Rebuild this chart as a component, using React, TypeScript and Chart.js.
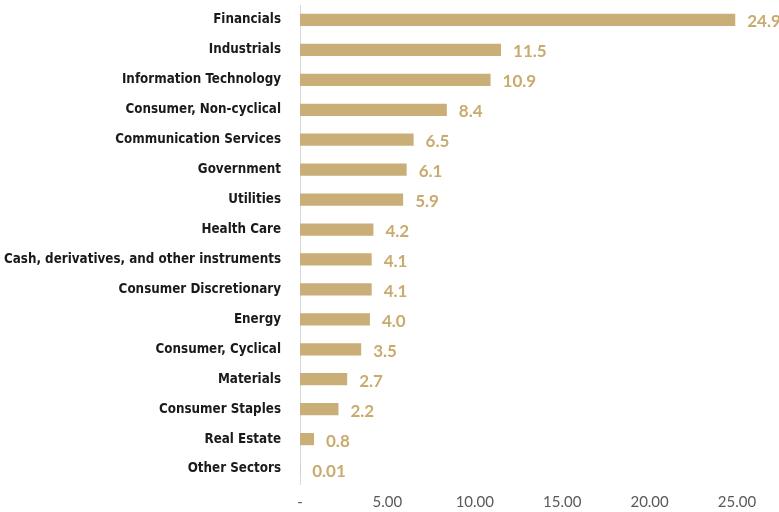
import React, { useEffect, useRef } from "react";
import { Chart, registerables } from "chart.js";

Chart.register(...registerables);

const categories = [
  "Financials",
  "Industrials",
  "Information Technology",
  "Consumer, Non-cyclical",
  "Communication Services",
  "Government",
  "Utilities",
  "Health Care",
  "Cash, derivatives, and other instruments",
  "Consumer Discretionary",
  "Energy",
  "Consumer, Cyclical",
  "Materials",
  "Consumer Staples",
  "Real Estate",
  "Other Sectors",
];

const values = [24.9, 11.5, 10.9, 8.4, 6.5, 6.1, 5.9, 4.2, 4.1, 4.1, 4.0, 3.5, 2.7, 2.2, 0.8, 0.01];

const valueLabels = ["24.9", "11.5", "10.9", "8.4", "6.5", "6.1", "5.9", "4.2", "4.1", "4.1", "4.0", "3.5", "2.7", "2.2", "0.8", "0.01"];

const xTicks = [0, 5, 10, 15, 20, 25];

const BAR = "#C9AE77";
const LABEL = "#C9AB6F";

const valueLabelPlugin = {
  id: "valueLabels",
  afterDatasetsDraw(chart: any) {
    const ctx = chart.ctx;
    const meta = chart.getDatasetMeta(0);
    ctx.save();
    ctx.font = "bold 17px Lato";
    ctx.fillStyle = LABEL;
    ctx.textAlign = "left";
    ctx.textBaseline = "middle";
    meta.data.forEach((el: any, i: number) => {
      ctx.fillText(valueLabels[i], el.x + 12, el.y + 2);
    });
    ctx.restore();
  },
};

export default function App() {
  const ref = useRef<HTMLCanvasElement | null>(null);
  useEffect(() => {
    document.body.style.margin = "0";
    const chart = new Chart(ref.current!, {
      type: "bar",
      data: {
        labels: categories,
        datasets: [
          {
            data: values,
            backgroundColor: BAR,
            borderWidth: 0,
            categoryPercentage: 0.85,
            barPercentage: 0.48,
          },
        ],
      },
      options: {
        indexAxis: "y",
        animation: false,
        responsive: false,
        maintainAspectRatio: false,
        layout: { padding: { top: 5, right: 42, left: 0, bottom: 0 } },
        plugins: {
          legend: { display: false },
          tooltip: { enabled: false },
        },
        scales: {
          x: {
            min: 0,
            max: 25,
            afterBuildTicks(axis: any) {
              axis.ticks = xTicks.map((v) => ({ value: v }));
            },
            afterFit(axis: any) {
              axis.height = 28;
              axis.paddingTop = 0;
              axis.paddingBottom = 0;
            },
            grid: { display: false, drawTicks: false },
            border: { display: false },
            ticks: {
              padding: 9,
              color: "#595959",
              font: { family: "Lato", size: 15 },
              callback: (v: any) => (Number(v) === 0 ? "-" : Number(v).toFixed(2)),
            },
          },
          y: {
            afterFit(axis: any) {
              axis.width = 300;
              axis.paddingTop = 0;
              axis.paddingBottom = 0;
            },
            grid: { display: false, drawTicks: false },
            border: { display: true, color: "#D9D9D9", width: 1 },
            ticks: {
              padding: 19,
              color: "#1A1A1A",
              font: { family: "'DejaVu Sans Condensed', 'DejaVu Sans'", size: 13.3, weight: "bold" },
            },
          },
        },
      },
      plugins: [valueLabelPlugin],
    });
    return () => chart.destroy();
  }, []);
  return (
    <div style={{ position: "absolute", left: 0, top: 0, width: 779, height: 512 }}>
      <canvas ref={ref} width={779} height={512} style={{ width: 779, height: 512 }} />
    </div>
  );
}
